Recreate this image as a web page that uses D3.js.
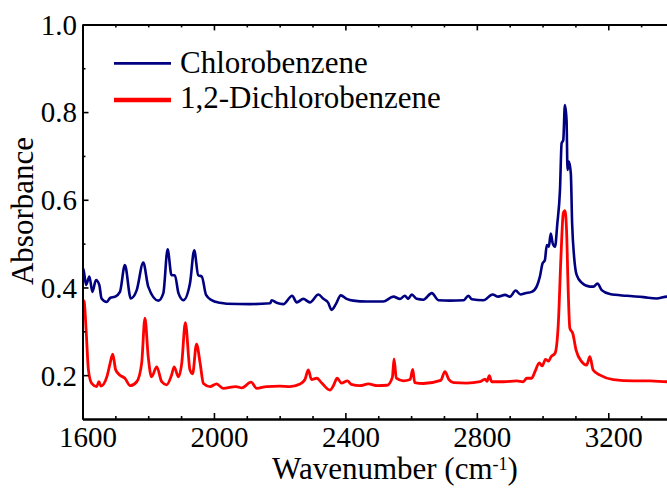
<!DOCTYPE html>
<html>
<head>
    <title>IR Spectra</title>
    <script src="https://d3js.org/d3.v7.min.js"></script>
    <style>
        body { margin: 0; background: white; }
        text { font-family: "Liberation Serif", "Times New Roman", serif; fill: black; }
    </style>
</head>
<body>
    <script>
        //****DATA****
        // Chlorobenzene
        const chloroWn = [1600, 1602, 1611, 1621, 1630, 1641, 1651, 1658, 1674, 1684, 1699, 1714, 1729, 1747, 1765, 1785, 1800, 1831, 1846, 1859,
            1871, 1881, 1892, 1907, 1927, 1940, 1952, 1963, 1976, 1993, 2018, 2039, 2110, 2171, 2176, 2191, 2211, 2238, 2252, 2272,
            2292, 2318, 2333, 2347, 2358, 2371, 2386, 2404, 2424, 2465, 2515, 2546, 2566, 2581, 2591, 2602, 2617, 2637, 2663, 2683,
            2718, 2760, 2774, 2785, 2820, 2848, 2865, 2886, 2901, 2918, 2933, 2947, 2967, 2982, 2992, 3000, 3007, 3013, 3019, 3025,
            3031, 3038, 3045, 3053, 3058, 3063, 3068, 3073, 3076, 3080, 3086, 3090, 3096, 3104, 3119, 3144, 3155, 3167, 3180, 3205,
            3256, 3307, 3347, 3379, 3400];
        const chloroAbs = [0.440, 0.444, 0.406, 0.425, 0.390, 0.417, 0.406, 0.375, 0.367, 0.376, 0.379, 0.390, 0.451, 0.375, 0.394, 0.457, 0.402, 0.370, 0.387, 0.487,
            0.428, 0.428, 0.387, 0.371, 0.409, 0.485, 0.428, 0.425, 0.383, 0.371, 0.365, 0.363, 0.362, 0.364, 0.371, 0.365, 0.362, 0.381, 0.366, 0.374,
            0.366, 0.384, 0.374, 0.366, 0.349, 0.362, 0.382, 0.374, 0.370, 0.368, 0.368, 0.379, 0.374, 0.381, 0.374, 0.384, 0.374, 0.372, 0.387, 0.371,
            0.370, 0.371, 0.381, 0.373, 0.371, 0.384, 0.379, 0.383, 0.379, 0.393, 0.384, 0.387, 0.390, 0.402, 0.425, 0.455, 0.462, 0.497, 0.493, 0.523,
            0.500, 0.493, 0.546, 0.622, 0.729, 0.736, 0.816, 0.782, 0.668, 0.687, 0.660, 0.546, 0.470, 0.428, 0.411, 0.402, 0.402, 0.409, 0.394, 0.385,
            0.381, 0.378, 0.375, 0.379, 0.377];

        // 1,2-Dichlorobenzene
        const dichloroWn = [1600, 1605, 1611, 1618, 1628, 1643, 1650, 1656, 1674, 1684, 1692, 1701, 1714, 1729, 1745, 1765, 1780, 1790, 1800, 1810,
            1826, 1841, 1856, 1871, 1879, 1892, 1902, 1913, 1927, 1935, 1947, 1958, 1968, 1988, 2008, 2028, 2067, 2085, 2113, 2130,
            2160, 2200, 2231, 2262, 2277, 2287, 2297, 2313, 2328, 2353, 2363, 2375, 2388, 2406, 2418, 2444, 2470, 2497, 2527, 2543,
            2548, 2555, 2576, 2597, 2605, 2611, 2637, 2690, 2703, 2715, 2730, 2769, 2810, 2825, 2831, 2838, 2845, 2881, 2921, 2941,
            2952, 2967, 2977, 2990, 2999, 3009, 3018, 3026, 3038, 3048, 3056, 3063, 3068, 3073, 3078, 3083, 3092, 3102, 3119, 3134,
            3144, 3154, 3175, 3215, 3276, 3327, 3379, 3400];
        const dichloroAbs = [0.372, 0.368, 0.303, 0.212, 0.181, 0.174, 0.185, 0.175, 0.196, 0.227, 0.248, 0.212, 0.200, 0.193, 0.176, 0.185, 0.227, 0.330, 0.242, 0.196,
            0.219, 0.185, 0.178, 0.200, 0.219, 0.196, 0.227, 0.320, 0.212, 0.203, 0.271, 0.227, 0.181, 0.174, 0.180, 0.170, 0.174, 0.171, 0.184, 0.170,
            0.174, 0.175, 0.174, 0.180, 0.190, 0.212, 0.190, 0.193, 0.182, 0.166, 0.175, 0.193, 0.182, 0.187, 0.179, 0.176, 0.180, 0.176, 0.177, 0.195,
            0.237, 0.193, 0.187, 0.190, 0.213, 0.183, 0.181, 0.188, 0.208, 0.190, 0.183, 0.182, 0.185, 0.191, 0.186, 0.199, 0.185, 0.185, 0.187, 0.185,
            0.193, 0.193, 0.208, 0.228, 0.221, 0.236, 0.232, 0.242, 0.250, 0.318, 0.470, 0.569, 0.575, 0.531, 0.394, 0.307, 0.295, 0.257, 0.231, 0.223,
            0.242, 0.212, 0.200, 0.190, 0.187, 0.187, 0.185, 0.185];

        const seriesNames = ['Chlorobenzene', '1,2-Dichlorobenzene'];
        const seriesColors = ['#000080', '#ff0000'];

        const xMajorTicks = [1600, 2000, 2400, 2800, 3200];
        const xMinorTicks = [1700, 1800, 1900, 2100, 2200, 2300, 2500, 2600, 2700, 2900, 3000, 3100, 3300];
        const yMajorTicks = [0.2, 0.4, 0.6, 0.8, 1.0];
        const yMinorTicks = [0.3, 0.5, 0.7, 0.9];

        //****CREATE THE SVG CANVAS****
        const width = 667;
        const height = 491;
        const plotLeft = 82.5;
        const plotRight = 674;
        const plotTop = 24.4;
        const plotBottom = 419;

        const svg = d3.select('body')
            .append('svg')
            .attr('width', width)
            .attr('height', height);

        svg.append('defs').append('clipPath')
            .attr('id', 'plot-clip')
            .append('rect')
            .attr('x', plotLeft)
            .attr('y', plotTop)
            .attr('width', plotRight - plotLeft)
            .attr('height', plotBottom - plotTop);

        //****SCALE THE DATA****
        const xScale = d3.scaleLinear()
            .domain([1600, 3400])
            .range([plotLeft, plotRight]);

        const yScale = d3.scaleLinear()
            .domain([0.1, 1.0])
            .range([plotBottom, plotTop]);

        //****PLOT THE DATA****
        const series = [
            { name: seriesNames[0], color: seriesColors[0], width: 2.6, wn: chloroWn, abs: chloroAbs },
            { name: seriesNames[1], color: seriesColors[1], width: 2.8, wn: dichloroWn, abs: dichloroAbs }
        ];

        const line = d3.line()
            .x(d => xScale(d[0]))
            .y(d => yScale(d[1]))
            .curve(d3.curveMonotoneX);

        svg.append('g')
            .attr('clip-path', 'url(#plot-clip)')
            .selectAll('path')
            .data(series)
            .enter()
            .append('path')
            .attr('d', s => line(s.wn.map((w, i) => [w, s.abs[i]])))
            .attr('fill', 'none')
            .attr('stroke', s => s.color)
            .attr('stroke-width', s => s.width)
            .attr('stroke-linejoin', 'round');

        //****BUILD THE AXES****
        function styleAxis(g) {
            g.select('.domain').attr('stroke', 'black').attr('stroke-width', 2);
            g.selectAll('.tick line').attr('stroke', 'black').attr('stroke-width', 1.6);
        }

        // bottom
        svg.append('g')
            .attr('transform', `translate(0, ${plotBottom})`)
            .call(d3.axisBottom(xScale).tickValues(xMinorTicks).tickSize(-3).tickSizeOuter(0).tickFormat(''))
            .call(styleAxis);

        const xAxisG = svg.append('g')
            .attr('transform', `translate(0, ${plotBottom})`)
            .call(d3.axisBottom(xScale).tickValues(xMajorTicks).tickSize(-6).tickSizeOuter(0).tickFormat(d3.format('d')))
            .call(styleAxis);

        xAxisG.selectAll('text')
            .attr('x', 5)
            .attr('y', 28)
            .attr('dy', 0)
            .style('font-size', '29px')
            .style('font-family', '"Liberation Serif", serif');

        // top
        svg.append('g')
            .attr('transform', `translate(0, ${plotTop})`)
            .call(d3.axisTop(xScale).tickValues(xMinorTicks).tickSize(-3).tickSizeOuter(0).tickFormat(''))
            .call(styleAxis);
        svg.append('g')
            .attr('transform', `translate(0, ${plotTop})`)
            .call(d3.axisTop(xScale).tickValues(xMajorTicks).tickSize(-6).tickSizeOuter(0).tickFormat(''))
            .call(styleAxis);

        // left
        svg.append('g')
            .attr('transform', `translate(${plotLeft}, 0)`)
            .call(d3.axisLeft(yScale).tickValues(yMinorTicks).tickSize(-3).tickSizeOuter(0).tickFormat(''))
            .call(styleAxis);

        const yAxisG = svg.append('g')
            .attr('transform', `translate(${plotLeft}, 0)`)
            .call(d3.axisLeft(yScale).tickValues(yMajorTicks).tickSize(-6).tickSizeOuter(0).tickFormat(d3.format('.1f')))
            .call(styleAxis);

        yAxisG.selectAll('text')
            .attr('x', -5.5)
            .attr('dy', '0.34em')
            .style('font-size', '29px')
            .style('font-family', '"Liberation Serif", serif');

        //****AXIS LABELS****
        const xLabel = svg.append('text')
            .attr('x', 395)
            .attr('y', 479)
            .attr('text-anchor', 'middle')
            .style('font-size', '31px');
        xLabel.append('tspan').text('Wavenumber (cm');
        xLabel.append('tspan').attr('dy', -9).style('font-size', '18px').text('-1');
        xLabel.append('tspan').attr('dy', 9).text(')');

        svg.append('text')
            .attr('transform', 'translate(33, 211) rotate(-90)')
            .attr('text-anchor', 'middle')
            .style('font-size', '31px')
            .text('Absorbance');

        //****LEGEND****
        const legend = svg.append('g');
        const legendY = [63.3, 100];
        const legendBase = [73.3, 108.3];

        legend.selectAll('line')
            .data(series)
            .enter()
            .append('line')
            .attr('x1', 114)
            .attr('x2', 171)
            .attr('y1', (d, i) => legendY[i])
            .attr('y2', (d, i) => legendY[i])
            .attr('stroke', d => d.color)
            .attr('stroke-width', (d, i) => i === 0 ? 2.8 : 4.5);

        legend.selectAll('text')
            .data(series)
            .enter()
            .append('text')
            .attr('x', 180)
            .attr('y', (d, i) => legendBase[i])
            .style('font-size', '31px')
            .text(d => d.name);
    </script>
</body>
</html>
